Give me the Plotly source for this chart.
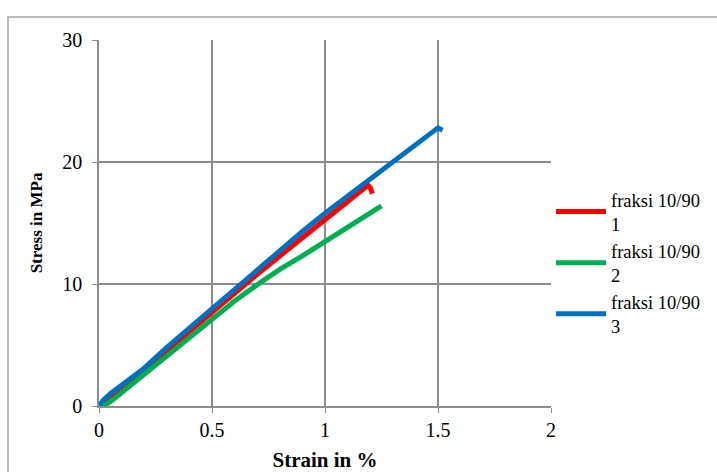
import plotly.graph_objects as go

red_x = [0, 0.02, 0.05, 0.1, 0.2, 0.3, 0.4, 0.5, 0.6, 0.7, 0.8, 0.9, 1.0, 1.1, 1.19, 1.2, 1.21]
red_y = [0, 0.3, 0.7, 1.4, 2.9, 4.5, 6.1, 7.7, 9.2, 10.8, 12.3, 13.8, 15.3, 16.8, 18.1, 17.9, 17.4]

green_x = [0, 0.03, 0.06, 0.1, 0.2, 0.3, 0.4, 0.5, 0.6, 0.72, 0.8, 0.9, 1.0, 1.1, 1.2, 1.24, 1.25]
green_y = [0, 0.1, 0.5, 1.1, 2.6, 4.2, 5.7, 7.2, 8.6, 10.2, 11.2, 12.3, 13.5, 14.7, 15.9, 16.4, 16.4]

blue_x = [0, 0.02, 0.05, 0.08, 0.1, 0.2, 0.3, 0.4, 0.5, 0.6, 0.7, 0.8, 0.9, 1.0, 1.1, 1.2, 1.3, 1.4, 1.5, 1.52]
blue_y = [0, 0.5, 1.0, 1.4, 1.7, 3.1, 4.8, 6.4, 8.0, 9.6, 11.2, 12.8, 14.3, 15.8, 17.2, 18.6, 20.1, 21.5, 22.8, 22.6]

names = ["fraksi 10/90<br>1", "fraksi 10/90<br>2", "fraksi 10/90<br>3"]
colors = ["#ff0000", "#00b050", "#0070c0"]

x_ticks = [0, 0.5, 1, 1.5, 2]
x_labels = ["0", "0.5", "1", "1.5", "2"]
y_ticks = [0, 10, 20, 30]

fig = go.Figure()
for xs, ys, nm, c in [(red_x, red_y, names[0], colors[0]),
                      (green_x, green_y, names[1], colors[1]),
                      (blue_x, blue_y, names[2], colors[2])]:
    fig.add_trace(go.Scatter(x=xs, y=ys, mode="lines", name=nm,
                             line=dict(color=c, width=5)))

font = "Liberation Serif, Times New Roman, serif"
grid = "#8c8c8c"

fig.update_layout(
    width=717, height=472,
    margin=dict(l=99, r=166, t=40, b=66),
    paper_bgcolor="white", plot_bgcolor="white",
    font=dict(family=font, size=20, color="black"),
    showlegend=True,
    legend=dict(x=1.0, y=(406 - 263) / 366, xanchor="left", yanchor="middle",
                font=dict(family=font, size=18.5, color="black"),
                bgcolor="rgba(0,0,0,0)", tracegroupgap=0, itemwidth=50),
    xaxis=dict(range=[0, 2], tickvals=x_ticks, ticktext=x_labels,
               showgrid=True, gridcolor=grid, gridwidth=1.5,
               zeroline=False, showline=True, linecolor=grid, linewidth=1.5,
               ticks="outside", ticklen=5, tickcolor=grid, automargin=False,
               tickfont=dict(family=font, size=20),
               title=dict(text="<b>Strain in %</b>", font=dict(family=font, size=21))),
    yaxis=dict(range=[0, 30], tickvals=y_ticks,
               showgrid=True, gridcolor=grid, gridwidth=1.5,
               zeroline=False, showline=True, linecolor=grid, linewidth=1.5,
               ticks="outside", ticklen=5, tickcolor=grid, automargin=False,
               tickfont=dict(family=font, size=20), ticklabelstandoff=6,
               title=dict(text="<b>Stress in MPa</b>", font=dict(family=font, size=17))),
)

# outer chart frame
fig.add_shape(type="rect", xref="paper", yref="paper",
              x0=(8 - 99) / 452, x1=1.6, y0=-0.5, y1=(406 - 17) / 366,
              line=dict(color="#a6a6a6", width=1.5), layer="below")

fig.write_html("out.html", config={"displayModeBar": False},
               post_script="document.body.style.margin='0';document.body.style.overflow='hidden';")
